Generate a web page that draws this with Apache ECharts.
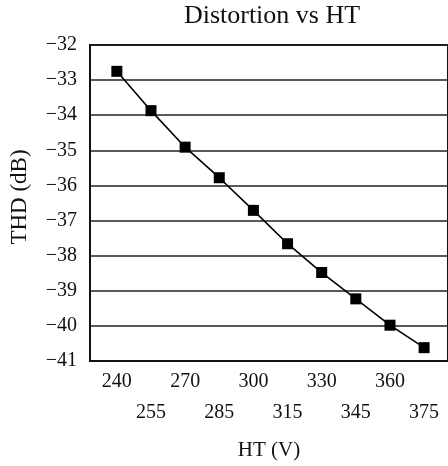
<!DOCTYPE html>
<html>
<head>
<meta charset="utf-8">
<script src="https://cdn.jsdelivr.net/npm/echarts@6/dist/echarts.min.js"></script>
<style>html,body{margin:0;padding:0;background:#fff}#c{width:448px;height:466px}</style>
</head>
<body>
<div id="c"></div>
<script>
const htValues = [240, 255, 270, 285, 300, 315, 330, 345, 360, 375];
const thdValues = [-32.75, -33.87, -34.91, -35.78, -36.71, -37.66, -38.48, -39.23, -39.98, -40.62];
const yTicks = [-41, -40, -39, -38, -37, -36, -35, -34, -33, -32];

const font = '"Liberation Serif", "DejaVu Serif", serif';
const chart = echarts.init(document.getElementById('c'), null, {renderer: 'canvas'});
const data = htValues.map((x, i) => [x, thdValues[i]]);

chart.setOption({
  animation: false,
  backgroundColor: '#fff',
  title: {
    text: 'Distortion vs HT',
    left: 272,
    textAlign: 'center',
    top: 3,
    padding: 0,
    textStyle: {fontFamily: font, fontSize: 26, fontWeight: 'normal', color: '#111'}
  },
  grid: {left: 88, top: 45, right: -3, bottom: 101, show: true, borderColor: '#111', borderWidth: 2},
  xAxis: {
    type: 'value',
    min: 228.2,
    max: 385.5,
    name: 'HT (V)',
    nameLocation: 'middle',
    nameGap: 79,
    nameTextStyle: {fontFamily: font, fontSize: 21, color: '#111'},
    axisLine: {show: true, lineStyle: {color: '#111', width: 2}},
    axisTick: {show: false},
    splitLine: {show: false},
    axisLabel: {
      customValues: htValues,
      margin: 5,
      fontFamily: font,
      fontSize: 20,
      color: '#111',
      lineHeight: 31,
      formatter: function (v) {
        const idx = htValues.indexOf(v);
        return idx % 2 === 1 ? '\n' + v : String(v);
      }
    }
  },
  yAxis: {
    type: 'value',
    min: yTicks[0],
    max: yTicks[yTicks.length - 1],
    interval: 1,
    name: 'THD (dB)',
    nameLocation: 'middle',
    nameGap: 59,
    nameTextStyle: {fontFamily: font, fontSize: 23, color: '#111', padding: [0, 0, 0, 12]},
    axisLine: {show: true, lineStyle: {color: '#111', width: 2}},
    axisTick: {show: false},
    splitLine: {show: true, lineStyle: {color: '#222', width: 1.5}},
    axisLabel: {
      margin: 13,
      fontFamily: font,
      fontSize: 20,
      color: '#111',
      formatter: function (v) { return String(v).replace('-', '\u2212'); }
    }
  },
  series: [{
    type: 'line',
    data: data,
    symbol: 'rect',
    symbolSize: 11,
    itemStyle: {color: '#000'},
    lineStyle: {color: '#000', width: 1.6}
  }]
});
</script>
</body>
</html>
